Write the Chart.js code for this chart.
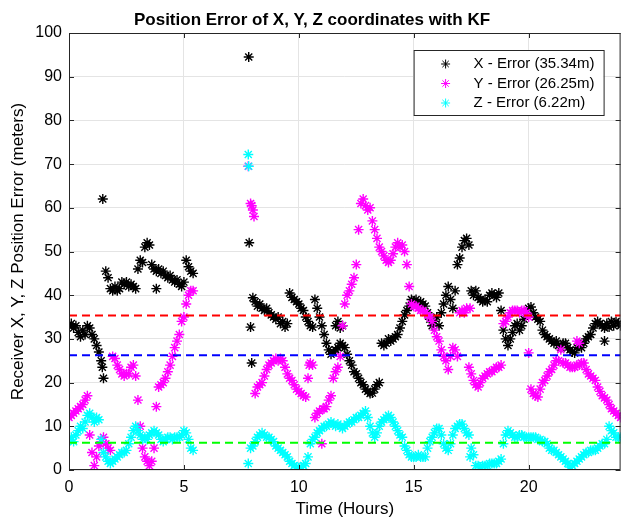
<!DOCTYPE html>
<html>
<head>
<meta charset="utf-8">
<script src="https://cdn.jsdelivr.net/npm/chart.js@4.4.0/dist/chart.umd.min.js"></script>
<style>
  html, body { margin: 0; padding: 0; background: #fff; }
  canvas { display: block; }
</style>
</head>
<body>
<canvas id="chart" width="627" height="521"></canvas>
<script>
// sample times (hours), one every 6 minutes
const hours = [
  0.0, 0.1, 0.2, 0.3, 0.4, 0.5, 0.6, 0.7, 0.8, 0.9,
  1.0, 1.1, 1.2, 1.3, 1.4, 1.5, 1.6, 1.7, 1.8, 1.9,
  2.0, 2.1, 2.2, 2.3, 2.4, 2.5, 2.6, 2.7, 2.8, 2.9,
  3.0, 3.1, 3.2, 3.3, 3.4, 3.5, 3.6, 3.7, 3.8, 3.9,
  4.0, 4.1, 4.2, 4.3, 4.4, 4.5, 4.6, 4.7, 4.8, 4.9,
  5.0, 5.1, 5.2, 5.3, 5.4, 5.5, 5.6, 5.7, 5.8, 5.9,
  6.0, 6.1, 6.2, 6.3, 6.4, 6.5, 6.6, 6.7, 6.8, 6.9,
  7.0, 7.1, 7.2, 7.3, 7.4, 7.5, 7.6, 7.7, 7.8, 7.9,
  8.0, 8.1, 8.2, 8.3, 8.4, 8.5, 8.6, 8.7, 8.8, 8.9,
  9.0, 9.1, 9.2, 9.3, 9.4, 9.5, 9.6, 9.7, 9.8, 9.9,
  10.0, 10.1, 10.2, 10.3, 10.4, 10.5, 10.6, 10.7, 10.8, 10.9,
  11.0, 11.1, 11.2, 11.3, 11.4, 11.5, 11.6, 11.7, 11.8, 11.9,
  12.0, 12.1, 12.2, 12.3, 12.4, 12.5, 12.6, 12.7, 12.8, 12.9,
  13.0, 13.1, 13.2, 13.3, 13.4, 13.5, 13.6, 13.7, 13.8, 13.9,
  14.0, 14.1, 14.2, 14.3, 14.4, 14.5, 14.6, 14.7, 14.8, 14.9,
  15.0, 15.1, 15.2, 15.3, 15.4, 15.5, 15.6, 15.7, 15.8, 15.9,
  16.0, 16.1, 16.2, 16.3, 16.4, 16.5, 16.6, 16.7, 16.8, 16.9,
  17.0, 17.1, 17.2, 17.3, 17.4, 17.5, 17.6, 17.7, 17.8, 17.9,
  18.0, 18.1, 18.2, 18.3, 18.4, 18.5, 18.6, 18.7, 18.8, 18.9,
  19.0, 19.1, 19.2, 19.3, 19.4, 19.5, 19.6, 19.7, 19.8, 19.9,
  20.0, 20.1, 20.2, 20.3, 20.4, 20.5, 20.6, 20.7, 20.8, 20.9,
  21.0, 21.1, 21.2, 21.3, 21.4, 21.5, 21.6, 21.7, 21.8, 21.9,
  22.0, 22.1, 22.2, 22.3, 22.4, 22.5, 22.6, 22.7, 22.8, 22.9,
  23.0, 23.1, 23.2, 23.3, 23.4, 23.5, 23.6, 23.7, 23.8, 23.9,
  24.0
];

const N = null;

// X position error (m)
const xErr = [
  33, 33.5, 32.5, 33, 31.5, 30.5, 32, 31, 33, 32.5,
  31, 30, 28.5, 27, 25, 21, 45.5, 44, 41.5, 41,
  42, 41, 41.5, 43, 42.5, 43, 42, 42.5, 42, 41.5,
  46, 48, 47.5, 51, 52, 51.5, 47, 46, 45.5, 46,
  45, 45.5, 44.5, 44, 44.5, 43.5, 43, 43.5, 42.5, 42,
  43, 48, 46.5, 45.5, 45, N, N, N, N, N,
  N, N, N, N, N, N, N, N, N, N,
  N, N, N, N, N, N, N, N, N, 32.7,
  39.4, 38.5, 37.5, 38, 37, 36.5, 37, 36, 35.5, 35,
  34.5, 35, 33.5, 34, 32.7, 33.5, 40.5, 39.5, 39, 38.5,
  38, 37, 36.5, 35, 34, 33, 32.7, 39, 37, 35,
  33, 31, 29, 27.5, 26.5, 27, 27.5, 28, 29, 28.5,
  28, 26.5, 25, 24, 22.5, 22, 21, 20, 19.5, 18.5,
  18, 17.5, 17.6, 18.5, 19.5, 20, 29, 28.5, 29, 30,
  29.5, 30, 30.5, 31, 32.5, 34, 35.5, 36.5, 37.5, 39,
  38.5, 39, 38, 38.5, 38, 37.5, 36, 34.5, 33, 34,
  35, 33, 36, 38, 40, 42, 39, 37, 41, 47,
  48.5, 51, 52.5, 53, 51.5, 41, 40, 41, 39.5, 39,
  38.5, 39, 38.5, 40, 40.5, 40, 39.5, 40.5, 36.5, 32,
  30, 28.5, 30, 31.5, 33, 33.5, 32, 33, 34.5, 36,
  37, 37.3, 36, 35, 34.5, 34, 32, 31, 30.5, 30,
  29.5, 29, 29.5, 28.5, 28, 29, 29, 28, 27.5, 27,
  26.8, 28, 28.5, 28, 29, 30, 30.5, 31, 32.5, 33.5,
  34, 33.5, 33, 32.5, 33.5, 32.7, 34, 33, 34, 33.5,
  33
];

// Y position error (m)
const yErr = [
  12, 12.5, 13, 13.5, 14, 14.5, 15, 16, 17, 8,
  4, 1, 3, 5.5, 6.5, 7.5, 6, 5, 4.5, 26,
  25.5, 24, 23, 22, 21.5, 22, 22, 23.5, 24, 21.5,
  16, 10, 5, 3, 2, 1, 2, 5, 14.5, 19,
  19.5, 20, 21, 22.5, 24, 26, 28, 29.5, 31, 34,
  35, 38, 40, 41, 41, N, N, N, N, N,
  N, N, N, N, N, N, N, N, N, N,
  N, N, N, N, N, N, N, N, 69.5, 61,
  59.5, 17.5, 19, 19.5, 20, 21.5, 23, 24, 24.5, 25,
  25.5, 25, 25.5, 25, 23.5, 22, 21, 20.5, 19.5, 18.5,
  18, 17.5, 17, 16.7, 21, 24.5, 24, 12, 13, 13.5,
  6, 14, 14.5, 16, 17, 21, 22.5, 23.5, 26, 33,
  38, 40, 41, 42.5, 44, 47, 55, 61, 62, 60.5,
  59.5, 60, 57, 55, 53, 51, 50, 49, 48, 47.5,
  48, 49.5, 51, 52, 51, 51.5, 50, 47, 42, 38,
  37.5, 37.5, 37, 36.5, 36.5, 36, 35.5, 35, 34, 32,
  30.5, 29.5, 27.5, 26, 25, 23, 26, 28, 27.5, 26,
  36, 36.5, 36, 37, 23.5, 22, 20.5, 19.5, 19, 20,
  21, 21.5, 22, 22.5, 22.5, 23, 23.5, 23.5, 24, 33.5,
  34, 35, 36, 36.5, 36.5, 36.5, 36, 36.5, 36.5, 36,
  35, 18.5, 17.5, 17, 16.7, 18.5, 20, 20.5, 21.5, 22.5,
  23, 24, 25, 25, 27.5, 24.5, 24.5, 24, 23.5, 23.5,
  23.5, 24, 24, 24.5, 24.5, 23, 22, 21.5, 21, 20.5,
  19, 18, 17, 16.5, 16, 15, 14, 13.5, 13, 12.5,
  12
];

// Z position error (m)
const zErr = [
  7, 7.5, 6.5, 8, 9, 10, 9.5, 11, 12.5, 13,
  12, 11, 12, 11.5, 7, 4, 3, 2, 1.5, 2,
  2.5, 3, 3.5, 4, 4, 4.5, 6, 7.5, 9, 10,
  9, 8, 7, 7.5, 7, 8, 8.5, 9, 8.5, 8,
  7, 6.5, 7, 7.5, 7.5, 7, 7.5, 7.5, 7.5, 8,
  9, 8.5, 7, 5, 4.5, N, N, N, N, N,
  N, N, N, N, N, N, N, N, N, N,
  N, N, N, N, N, N, N, N, 1.5, 5,
  5.5, 6.5, 7.5, 8, 8.5, 8, 7.5, 7.5, 7, 6.5,
  5.5, 5, 4.5, 4, 3.5, 3, 2, 1.5, 1, 0.7,
  0.5, 0.7, 1, 1.5, 3, 6, 7, 7.5, 8.5, 9,
  9.5, 10, 10, 10.5, 11, 10.5, 10, 10.5, 10, 9.5,
  10, 10.5, 11, 11, 11.5, 12, 12, 12.5, 13, 13.5,
  12, 10, 8.5, 7.5, 8.5, 10, 11, 11.5, 12, 12.5,
  12, 11, 10, 9, 8, 7.5, 5.5, 4.5, 3.5, 3,
  3, 3, 3.5, 3, 3, 3, 5, 6.5, 7.5, 8.5,
  9.5, 9.5, 8, 6, 5, 4.5, 6, 8, 9.5, 10,
  10.5, 10.5, 9.5, 8.5, 8, 5, 3.5, 1, 1, 0.7,
  1, 1, 1, 1.5, 1.5, 1.5, 1.5, 2, 2.5, 6,
  8, 9, 8.5, 8, 7.5, 7.5, 8, 8, 7.5, 7.5,
  7.5, 7.5, 7.5, 7.5, 7, 7, 6.5, 6.5, 6, 5,
  4.5, 4.5, 4, 3.5, 3, 2.5, 2, 1.5, 0.7, 1,
  1.5, 2, 2.5, 3, 3.5, 4, 4, 4.5, 4.5, 4.5,
  5, 5.5, 6, 6, 7, 10, 9, 8.5, 7.5, 7.5,
  7.5
];

// stray epochs off the main tracks
const xExtraHours = [1.45, 1.47, 3.8, 7.82, 7.84, 7.95, 11.6, 11.7, 11.8, 11.9, 23.3];
const xExtraErr   = [23.5, 62, 41.5, 94.5, 52, 24.5, 33, 34, 32.5, 33, 29.5];
const yExtraHours = [7.95, 8.05, 10.45, 11.05, 17.45, 20.0, 22.1, 22.2];
const yExtraErr   = [60.5, 58, 24, 14, 37, 26.8, 29.5, 29];
const zExtraHours = [7.8, 7.82, 17.45];
const zExtraErr   = [72.2, 69.5, 3];

// mean errors (m)
const meanX = 35.34;
const meanY = 26.25;
const meanZ = 6.22;

const FONT = '"Liberation Sans", Arial, Helvetica, sans-serif';

function toPoints(xs, ys, exs, eys) {
    const pts = [];
    xs.forEach((h, i) => { if (ys[i] != null) pts.push({x: h, y: ys[i]}); });
    exs.forEach((h, i) => pts.push({x: h, y: eys[i]}));
    return pts;
}

function meanLine(v, color, order) {
    return {
        type: 'line',
        data: [{x: 0, y: v}, {x: 24, y: v}],
        borderColor: color,
        borderWidth: 2,
        borderDash: [8, 5],
        pointRadius: 0,
        order: order,
    };
}

function series(label, pts, color, order) {
    return {
        label: label,
        data: pts,
        pointStyle: 'star',
        pointRadius: 5,
        borderColor: color,
        backgroundColor: color,
        borderWidth: 1.4,
        order: order,
        inLegend: true,
    };
}

// box + inward ticks on all four sides, MATLAB style
const frame = {
    id: 'frame',
    afterDatasetsDraw(chart) {
        const {ctx, chartArea: a, scales: {x, y}} = chart;
        const len = 5;
        ctx.save();
        ctx.strokeStyle = '#262626';
        ctx.lineWidth = 1;
        ctx.strokeRect(a.left + 0.5, a.top + 0.5, a.right - a.left - 1, a.bottom - a.top - 1);
        ctx.beginPath();
        x.ticks.forEach(t => {
            const px = Math.round(x.getPixelForValue(t.value)) + 0.5;
            ctx.moveTo(px, a.bottom); ctx.lineTo(px, a.bottom - len);
            ctx.moveTo(px, a.top); ctx.lineTo(px, a.top + len);
        });
        y.ticks.forEach(t => {
            const py = Math.round(y.getPixelForValue(t.value)) + 0.5;
            ctx.moveTo(a.left, py); ctx.lineTo(a.left + len, py);
            ctx.moveTo(a.right, py); ctx.lineTo(a.right - len, py);
        });
        ctx.stroke();
        ctx.restore();
    }
};

// legend in a box at the top right of the plot
const boxLegend = {
    id: 'boxLegend',
    afterDraw(chart) {
        const {ctx, chartArea: a} = chart;
        const items = chart.data.datasets.filter(d => d.inLegend);
        const w = 190, h = 65;
        const left = a.right - 17 - w, top = a.top + 17;
        ctx.save();
        ctx.fillStyle = '#fff';
        ctx.fillRect(left, top, w, h);
        ctx.strokeStyle = '#262626';
        ctx.lineWidth = 1;
        ctx.strokeRect(left + 0.5, top + 0.5, w, h);
        ctx.font = '15px ' + FONT;
        ctx.textBaseline = 'middle';
        items.forEach((d, i) => {
            const cy = top + 14 + i * 19.5;
            ctx.strokeStyle = d.borderColor;
            ctx.fillStyle = d.borderColor;
            ctx.lineWidth = 1;
            Chart.helpers.drawPoint(ctx, {pointStyle: 'star', radius: 4.5, rotation: 0, borderWidth: 1}, left + 32, cy);
            ctx.fillStyle = '#000';
            ctx.fillText(d.label, left + 60, cy);
        });
        ctx.restore();
    }
};

new Chart(document.getElementById('chart'), {
    type: 'scatter',
    data: {
        datasets: [
            series(`X - Error (${meanX}m)`, toPoints(hours, xErr, xExtraHours, xExtraErr), '#000000', 6),
            series(`Y - Error (${meanY}m)`, toPoints(hours, yErr, yExtraHours, yExtraErr), '#ff00ff', 5),
            series(`Z - Error (${meanZ}m)`, toPoints(hours, zErr, zExtraHours, zExtraErr), '#00ffff', 4),
            meanLine(meanX, '#ff0000', 3),
            meanLine(meanY, '#0000ff', 2),
            meanLine(meanZ, '#00ff00', 1),
        ]
    },
    options: {
        responsive: false,
        animation: false,
        events: [],
        layout: { padding: { left: 0, right: 3, top: 0, bottom: 0 } },
        plugins: {
            legend: { display: false },
            tooltip: { enabled: false },
            title: {
                display: true,
                text: 'Position Error of X, Y, Z coordinates with KF',
                color: '#000',
                font: { family: FONT, size: 17, weight: 'bold', lineHeight: 1.2 },
                padding: { top: 10, bottom: 2.6 },
            },
        },
        scales: {
            x: {
                type: 'linear',
                min: 0,
                max: 24,
                afterFit: s => { s.height = 51; },
                ticks: {
                    stepSize: 5,
                    includeBounds: false,
                    color: '#000',
                    padding: 8,
                    maxRotation: 0,
                    font: { family: FONT, size: 16 },
                },
                grid: { color: '#e4e4e4', drawTicks: false },
                border: { display: false },
                title: {
                    display: true,
                    text: 'Time (Hours)',
                    color: '#000',
                    font: { family: FONT, size: 17, lineHeight: 1.2 },
                    padding: { top: 0, bottom: 1 },
                },
            },
            y: {
                min: 0,
                max: 100,
                afterFit: s => { s.width = 69; },
                ticks: {
                    stepSize: 10,
                    color: '#000',
                    padding: 7,
                    font: { family: FONT, size: 16 },
                },
                grid: { color: '#e4e4e4', drawTicks: false },
                border: { display: false },
                title: {
                    display: true,
                    text: 'Receiver X, Y, Z Position Error (meters)',
                    color: '#000',
                    font: { family: FONT, size: 17, lineHeight: 1.2 },
                    padding: { top: 8, bottom: 0 },
                },
            },
        },
    },
    plugins: [frame, boxLegend],
});
</script>
</body>
</html>
